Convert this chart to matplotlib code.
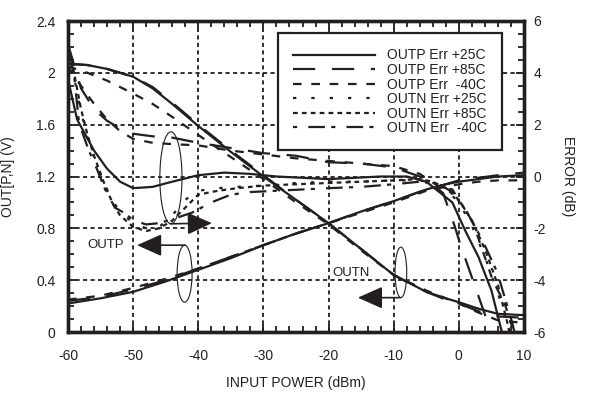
import matplotlib
matplotlib.use('Agg')
import matplotlib.pyplot as plt
from matplotlib.patches import Ellipse
import numpy as np

plt.rcParams['font.family'] = ['Liberation Sans', 'DejaVu Sans']
plt.rcParams['lines.scale_dashes'] = False
plt.rcParams['axes.unicode_minus'] = False

INK = '#231f20'

# ---------------- data ----------------
x_ticks = [-60, -50, -40, -30, -20, -10, 0, 10]
x_tick_labels = ['-60', '-50', '-40', '-30', '-20', '-10', '0', '10']
v_ticks = [0, 0.4, 0.8, 1.2, 1.6, 2.0, 2.4]
v_tick_labels = ['0', '0.4', '0.8', '1.2', '1.6', '2', '2.4']
e_ticks = [-6, -4, -2, 0, 2, 4, 6]
e_tick_labels = ['-6', '-4', '-2', '0', '2', '4', '6']

# OUTP voltage (rising)
outp_x = [-60, -55, -50, -45, -40, -35, -30, -25, -20, -15, -10, -5, -2, 0, 3, 6, 10]
outp_v_25 = [0.22, 0.26, 0.31, 0.39, 0.48, 0.57, 0.67, 0.76, 0.84, 0.93, 1.01, 1.10, 1.14, 1.16, 1.18, 1.20, 1.21]
outp_v_85 = [0.24, 0.27, 0.33, 0.40, 0.49, 0.58, 0.67, 0.76, 0.84, 0.93, 1.01, 1.10, 1.14, 1.17, 1.19, 1.21, 1.23]
outp_v_m40 = [0.25, 0.28, 0.34, 0.41, 0.49, 0.58, 0.67, 0.76, 0.84, 0.92, 1.00, 1.09, 1.12, 1.14, 1.16, 1.17, 1.17]

# OUTN voltage (falling)
outn_x = [-60, -57, -54, -50, -47, -44, -40, -35, -30, -25, -20, -15, -10, -5, -2, 0, 3, 6, 10]
outn_v_25 = [2.07, 2.06, 2.03, 1.97, 1.88, 1.76, 1.59, 1.39, 1.20, 1.02, 0.84, 0.64, 0.44, 0.31, 0.26, 0.23, 0.18, 0.14, 0.13]
outn_v_85 = [2.07, 2.06, 2.03, 1.97, 1.89, 1.77, 1.60, 1.40, 1.21, 1.02, 0.84, 0.64, 0.44, 0.31, 0.25, 0.22, 0.16, 0.12, 0.11]
outn_v_m40 = [2.05, 2.00, 1.94, 1.84, 1.76, 1.66, 1.52, 1.35, 1.18, 1.00, 0.83, 0.63, 0.44, 0.32, 0.26, 0.22, 0.15, 0.09, 0.07]

# OUTP error (dB)
outp_e25_x = [-60, -58.6, -56, -54, -52, -50, -47, -44, -40, -36, -32, -28, -24, -20, -16, -12, -8, -5, -3, -1, 1, 3, 5, 6.6, 7.5]
outp_e25 = [3.75, 2.2, 1.0, 0.3, -0.2, -0.45, -0.4, -0.2, 0.05, 0.15, 0.1, 0.0, -0.05, -0.1, -0.05, 0.0, 0.0, -0.2, -0.6, -1.0, -2.1, -3.1, -4.4, -6.0, -7.0]
outp_e85_x = [-60, -58, -56, -54, -52, -50, -47, -44, -40, -35, -30, -25, -20, -15, -10, -6, -4.4, -2.4, -0.6, 0.2, 2.5, 4.8, 5.5]
outp_e85 = [5.1, 3.4, 2.6, 2.15, 1.85, 1.65, 1.55, 1.5, 1.3, 1.1, 0.9, 0.8, 0.55, 0.5, 0.35, 0.0, -0.2, -0.65, -1.95, -2.6, -4.25, -5.9, -6.5]
outp_em40_x = [-60, -58, -56, -54, -52, -50, -47, -44, -40, -35, -30, -25, -20, -15, -10, -6, -3, -1, 1, 2.2, 5.2, 7.1, 8.3, 9]
outp_em40 = [4.25, 3.5, 2.8, 2.2, 1.75, 1.45, 1.3, 1.25, 1.2, 1.0, 0.85, 0.7, 0.6, 0.5, 0.4, 0.1, -0.4, -0.5, -1.3, -1.8, -4.0, -4.95, -5.9, -6.5]

# OUTN error (dB)
outn_e25_x = [-60, -59, -58, -57, -56, -55, -54, -53, -52, -50, -48, -46, -44, -42, -40, -37, -34, -30, -25, -20, -15, -10, -6, -4, -2, 0, 2, 4, 6, 7.8, 8.5]
outn_e25 = [5.0, 3.75, 2.5, 1.5, 0.75, 0.1, -0.5, -1.0, -1.35, -1.8, -2.0, -1.95, -1.5, -0.9, -0.55, -0.45, -0.4, -0.35, -0.25, -0.2, -0.2, -0.15, -0.15, -0.25, -0.5, -1.0, -1.9, -3.1, -4.5, -6.0, -6.5]
outn_e85_x = [-60, -59, -58, -57, -56, -55, -54, -53, -52, -50, -48, -46, -44, -42, -40, -37, -34, -30, -25, -20, -15, -10, -6, -4, -2, 0, 2, 4, 6, 7.5, 8.2]
outn_e85 = [5.2, 3.9, 2.6, 1.6, 0.8, 0.1, -0.55, -1.1, -1.5, -1.95, -2.1, -2.0, -1.7, -1.2, -0.7, -0.55, -0.45, -0.35, -0.3, -0.25, -0.2, -0.15, -0.1, -0.2, -0.45, -0.9, -1.7, -2.8, -4.2, -5.7, -6.5]
outn_em40_x = [-60, -59, -58.3, -56.8, -55.9, -54.3, -52.8, -51.4, -49.9, -48, -46, -44, -41, -38, -35, -32, -28, -24, -20, -15, -10, -6, -3, -1, 1.3, 3.6, 5.9, 8.2, 9]
outn_em40 = [5.25, 3.75, 2.05, 1.0, 0.5, -0.5, -1.2, -1.4, -1.7, -1.85, -1.8, -1.65, -1.4, -1.0, -0.7, -0.6, -0.55, -0.5, -0.45, -0.4, -0.3, -0.2, -0.3, -0.6, -1.4, -2.45, -3.7, -5.65, -6.5]

legend_labels = ['OUTP Err +25C', 'OUTP Err +85C', 'OUTP Err  -40C',
                 'OUTN Err +25C', 'OUTN Err +85C', 'OUTN Err  -40C']

# ---------------- styles ----------------
LS_SOLID = '-'
LS_LONG = (0, (16, 12))
LS_DASH = (0, (6.2, 7))
LS_DOT = (0, (2.4, 10.8))
LS_DENSE = (0, (3.4, 3.0))
LS_DASHDOT = (0, (3, 8, 12, 4.5))
LW = 1.6

fig = plt.figure(figsize=(5.95, 3.95), dpi=100)
ax = fig.add_axes([68 / 595, 1 - 332 / 395, 456 / 595, 311 / 395])
ax2 = ax.twinx()

# voltage curves
for xs, ys, ls in [(outp_x, outp_v_25, LS_SOLID), (outp_x, outp_v_85, LS_LONG), (outp_x, outp_v_m40, LS_DASH),
                   (outn_x, outn_v_25, LS_SOLID), (outn_x, outn_v_85, LS_LONG), (outn_x, outn_v_m40, LS_DASH)]:
    ax.plot(xs, ys, color=INK, lw=LW, linestyle=ls)

# error curves
handles = []
for xs, ys, ls, lab in [(outp_e25_x, outp_e25, LS_SOLID, legend_labels[0]),
                        (outp_e85_x, outp_e85, LS_LONG, legend_labels[1]),
                        (outp_em40_x, outp_em40, LS_DASH, legend_labels[2]),
                        (outn_e25_x, outn_e25, LS_DOT, legend_labels[3]),
                        (outn_e85_x, outn_e85, LS_DENSE, legend_labels[4]),
                        (outn_em40_x, outn_em40, LS_DASHDOT, legend_labels[5])]:
    h, = ax2.plot(xs, ys, color=INK, lw=LW, linestyle=ls, label=lab)
    handles.append(h)

ax.set_xlim(-60, 10)
ax.set_ylim(0, 2.4)
ax2.set_ylim(-6, 6)

ax.set_xticks(x_ticks)
ax.set_xticklabels(x_tick_labels)
ax.set_xticks(np.arange(-60, 11, 2), minor=True)
ax.set_yticks(v_ticks)
ax.set_yticklabels(v_tick_labels)
ax.set_yticks(np.arange(0, 2.41, 0.1), minor=True)
ax2.set_yticks(e_ticks)
ax2.set_yticklabels(e_tick_labels)
ax2.set_yticks(np.arange(-6, 6.01, 0.5), minor=True)

ax.tick_params(axis='x', which='both', direction='in', top=True, bottom=True, colors=INK, labelsize=10, pad=12)
ax.tick_params(axis='y', which='both', direction='in', left=True, right=False, colors=INK, labelsize=10, pad=9)
ax2.tick_params(axis='y', which='both', direction='in', right=True, colors=INK, labelsize=10, pad=7)
for a in (ax, ax2):
    a.tick_params(which='major', length=6, width=1.3)
    a.tick_params(which='minor', length=4, width=1.3)
    for s in a.spines.values():
        s.set_linewidth(2.4)
        s.set_color(INK)

ax.grid(True, which='major', color=INK, linestyle=(0, (3, 2.4)), linewidth=1.3)

ax.set_xlabel('INPUT POWER (dBm)', fontsize=10, color=INK, va='center')
ax.xaxis.set_label_coords(0.5, -0.164)
ax.set_ylabel('OUT[P,N] (V)', fontsize=10, color=INK)
ax.yaxis.set_label_coords(-0.117, 0.5)
ax2.set_ylabel('ERROR (dB)', fontsize=10, color=INK, rotation=270, va='center')
ax2.yaxis.set_label_coords(1.097, 0.5)

leg = ax2.legend(handles=handles, loc='upper left', bbox_to_anchor=(0.4605, 0.961), borderaxespad=0,
                 fontsize=10, handlelength=5.9, handletextpad=0.85, labelspacing=0.04, borderpad=1.1,
                 fancybox=False, framealpha=1, edgecolor=INK)
leg.get_frame().set_linewidth(1.6)
for t in leg.get_texts():
    t.set_color(INK)

# annotations
ell_kw = dict(fill=False, edgecolor=INK, lw=0.8)
ax2.add_patch(Ellipse((-44.2, 1.19 * 5 - 6), 3.4, 0.71 * 5, **ell_kw))
ax2.add_patch(Ellipse((-42.1, 0.45 * 5 - 6), 2.3, 0.44 * 5, **ell_kw))
ax2.add_patch(Ellipse((-8.9, 0.46 * 5 - 6), 1.8, 0.39 * 5, **ell_kw))

arr = dict(arrowstyle='-|>,head_length=0.85,head_width=0.38', color=INK, lw=1.2,
           shrinkA=0, shrinkB=0, mutation_scale=18)
ax2.annotate('', xy=(-37.9, 0.84 * 5 - 6), xytext=(-44.3, 0.835 * 5 - 6), arrowprops=arr)
ax2.annotate('', xy=(-49.4, 0.67 * 5 - 6), xytext=(-42.0, 0.67 * 5 - 6), arrowprops=arr)
ax2.annotate('', xy=(-15.5, 0.265 * 5 - 6), xytext=(-9.0, 0.265 * 5 - 6), arrowprops=arr)
ax2.text(-54.2, 0.67 * 5 - 6, 'OUTP', fontsize=9.5, color=INK, ha='center', va='center')
ax2.text(-16.6, 0.455 * 5 - 6, 'OUTN', fontsize=9.5, color=INK, ha='center', va='center')

fig.savefig('out.png', dpi=100)
